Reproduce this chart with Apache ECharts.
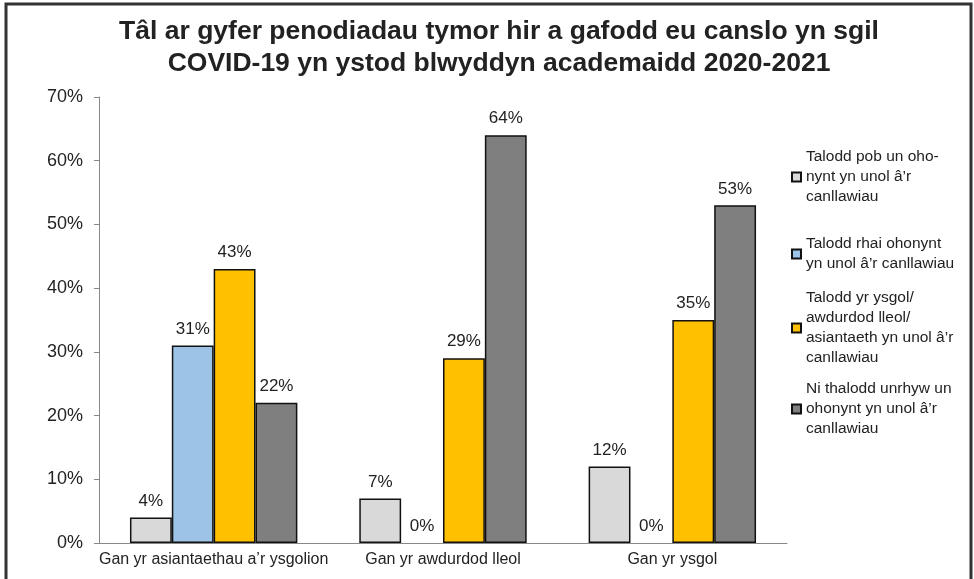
<!DOCTYPE html>
<html>
<head>
<meta charset="utf-8">
<script src="https://cdn.jsdelivr.net/npm/echarts@6/dist/echarts.min.js"></script>
<style>
  html, body { margin: 0; padding: 0; background: #fff; }
  #main { width: 974px; height: 579px; }
</style>
</head>
<body>
<div id="main"></div>
<script>
const categories = ["Gan yr asiantaethau a’r ysgolion", "Gan yr awdurdod lleol", "Gan yr ysgol"];
const seriesNames = [
  "Talodd pob un oho-\nnynt yn unol â’r\ncanllawiau",
  "Talodd rhai ohonynt\nyn unol â’r canllawiau",
  "Talodd yr ysgol/\nawdurdod lleol/\nasiantaeth yn unol â’r\ncanllawiau",
  "Ni thalodd unrhyw un\nohonynt yn unol â’r\ncanllawiau",
];
const allPaid = [4, 7, 12];
const somePaid = [31, 0, 0];
const orgPaid = [43, 29, 35];
const nonePaid = [22, 64, 53];
const yTicks = [0, 10, 20, 30, 40, 50, 60, 70];

const FONT = "'Liberation Sans', Arial, Helvetica, sans-serif";
const colors = ["#D9D9D9", "#9DC3E6", "#FFC000", "#7F7F7F"];
const seriesValues = [allPaid, somePaid, orgPaid, nonePaid];
// top of each legend box, so the text blocks sit where the original has them
const legendTops = [147, 234, 288, 379];

const chart = echarts.init(document.getElementById("main"), null, { renderer: "canvas" });

const option = {
  backgroundColor: "#fff",
  animation: false,
  textStyle: { fontFamily: FONT },
  title: {
    text: "Tâl ar gyfer penodiadau tymor hir a gafodd eu canslo yn sgil\nCOVID-19 yn ystod blwyddyn academaidd 2020-2021",
    left: 494,
    textAlign: "center",
    top: 11,
    textStyle: {
      fontFamily: FONT,
      fontSize: 26.5,
      fontWeight: "bold",
      color: "#222",
      lineHeight: 32,
    },
  },
  graphic: [
    {
      type: "rect",
      shape: { x: 6, y: 4, width: 965, height: 600 },
      style: { fill: "none", stroke: "#333", lineWidth: 3 },
      silent: true,
    },
  ],
  legend: seriesNames.map((name, i) => ({
    data: [name],
    orient: "vertical",
    left: 791,
    top: legendTops[i],
    padding: 0,
    icon: "rect",
    itemWidth: 9,
    itemHeight: 9,
    selectedMode: false,
    textStyle: { fontFamily: FONT, fontSize: 15.5, lineHeight: 20, color: "#222" },
  })),
  grid: {
    left: 99,
    right: 187,
    top: 97,
    bottom: 36,
  },
  xAxis: {
    type: "category",
    data: categories,
    axisLine: { lineStyle: { color: "#888", width: 1 } },
    axisTick: { show: false },
    axisLabel: { fontFamily: FONT, fontSize: 16, color: "#222", margin: 9, interval: 0, hideOverlap: false },
  },
  yAxis: {
    type: "value",
    min: yTicks[0],
    max: yTicks[yTicks.length - 1],
    interval: 10,
    axisLine: { show: true, lineStyle: { color: "#888", width: 1 } },
    axisTick: { show: true, length: 5, lineStyle: { color: "#888" } },
    splitLine: { show: false },
    axisLabel: {
      fontFamily: FONT,
      fontSize: 18,
      color: "#222",
      margin: 16,
      formatter: "{value}%",
    },
  },
  series: seriesNames.map((name, i) => ({
    name: name,
    type: "bar",
    barGap: "0%",
    barCategoryGap: "27%",
    data: seriesValues[i].map((v) => (v === 0 ? { value: v, itemStyle: { borderWidth: 0 } } : v)),
    itemStyle: { color: colors[i], borderColor: "#111", borderWidth: 1.5 },
    label: {
      show: true,
      position: "top",
      distance: 8,
      fontFamily: FONT,
      fontSize: 17,
      color: "#222",
      formatter: "{c}%",
    },
  })),
};

chart.setOption(option, true);
</script>
</body>
</html>
